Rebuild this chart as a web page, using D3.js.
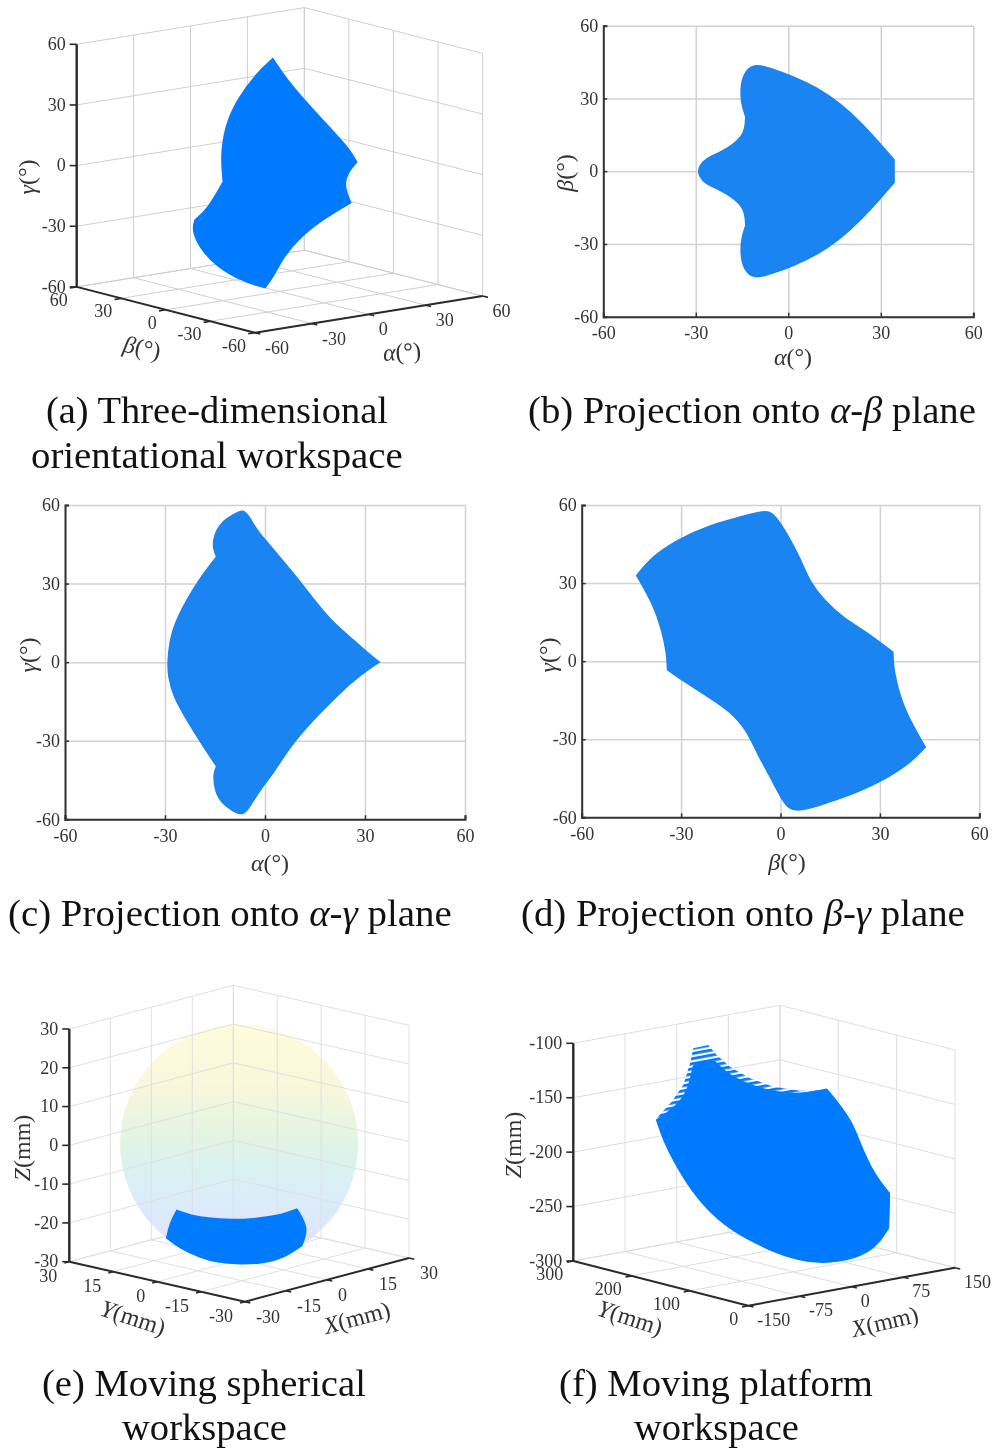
<!DOCTYPE html>
<html>
<head>
<meta charset="utf-8">
<script src="https://cdn.jsdelivr.net/npm/d3@7"></script>
<style>
    html, body { margin: 0; padding: 0; background: #fff; }
    svg { display: block; filter: blur(0.6px); }
    text { font-family: "Liberation Serif", serif; fill: #333; }
    .caption { fill: #111; }
</style>
</head>
<body>
<div id="chart"></div>
<script>
// tick labels of the panels
var angleTicks = [-60, -30, 0, 30, 60];
var sphereTicksXY = [-30, -15, 0, 15, 30];
var sphereTicksZ = [-30, -20, -10, 0, 10, 20, 30];
var platformTicksX = [-150, -75, 0, 75, 150];
var platformTicksY = [0, 100, 200, 300];
var platformTicksZ = [-300, -250, -200, -150, -100];

// (a) silhouette, as [alpha, gamma] on the beta = 0 plane
var outlineA = [[-3.6,55.7],[3.7,44.1],[16,29],[28.3,14.8],[37.1,4.4],[40.6,-2.2],[36.2,-6.2],[34.1,-11.6],
    [35.4,-16.8],[37.5,-21.8],[24.8,-26.8],[10.8,-34.5],[2,-43.1],[-3.3,-52.2],[-7.7,-56.9],[-19.1,-52.3],
    [-33.2,-42.7],[-42,-32.3],[-46.2,-22.6],[-44.6,-17.9],[-37.6,-13.2],[-29.7,-1.2],[-31,11.4],[-28.8,25.9],
    [-22.6,38.1],[-12.1,49.8]];
// positions in the outline where the edge has a sharp corner
var cornersA = [0, 5, 9, 14, 19, 21];

// (b) [alpha, beta]
var outlineB = [[-11,44.6],[-4.9,42],[1.6,39],[9.2,34.6],[16.8,28],[23.2,20.5],[29.7,11.5],[34.3,4.7],[34.3,-4.7],
    [29.7,-11.5],[23.2,-20.5],[16.8,-28],[9.2,-34.6],[1.6,-39],[-4.9,-42],[-11,-44.6],[-14.6,-40.4],[-15.5,-33.5],
    [-15.1,-27.4],[-13.8,-22.5],[-14,-15.7],[-17.8,-10.9],[-22.7,-7.4],[-27,-5],[-28.9,-1.9],[-29.1,0],[-28.9,1.9],
    [-27,5],[-22.7,7.4],[-17.8,10.9],[-14,15.7],[-13.8,22.5],[-15.1,27.4],[-15.5,33.5],[-14.6,40.4]];
var cornersB = [7, 8, 19, 31];

// (c) [alpha, gamma]
var outlineC = [[-6.5,58.6],[-4.5,55],[-2.5,50.5],[0.5,46],[5.5,38.4],[10.5,30.8],[15.5,22.5],[20.5,14.9],[26.5,8.5],
    [31.5,2.8],[34.3,0],[31.5,-2.3],[25.5,-8],[19.5,-15.6],[13.5,-23.3],[7.5,-32.2],[2.5,-42.4],[-1.5,-48.7],[-4.5,-55],
    [-6.5,-58.6],[-9.5,-57],[-13,-53.8],[-15,-49.4],[-15.5,-42.4],[-14.5,-39.8],[-18.5,-32.2],[-23.5,-22],[-27.5,-13.1],
    [-29,-5.5],[-29.2,0],[-28.5,8.5],[-27,14.9],[-23.5,23.8],[-19.5,32],[-14.5,40.3],[-15.5,42.9],[-15.5,48],[-13,53.7],[-9.5,56.2]];
var cornersC = [10, 24, 34];

// (d) [beta, gamma]
var outlineD = [[-3.6,58.5],[-1.1,54.9],[1.9,49.2],[5.9,39.6],[9,30],[13,23.6],[19,16.5],[25,12],[33.9,3.5],[34.1,-4],
    [36.6,-16.1],[40.1,-25.1],[43.7,-33],[39.1,-39.2],[32.1,-44.9],[24,-50],[14,-54.5],[3.9,-58.5],[0.9,-54.5],[-3.1,-44.3],
    [-7.1,-35.3],[-10.2,-26.4],[-15.2,-19.3],[-21.2,-14.2],[-28.3,-8.5],[-34.1,-3.3],[-34.3,3.1],[-35.8,12],[-38.3,21.6],
    [-43.4,32.9],[-39.3,39.6],[-31.3,46.6],[-21.2,52.4],[-11.2,55.6]];
var cornersD = [8, 12, 25, 29];

// (e) moving spherical workspace, as [x, z] on the y = 0 plane
var sphereRadius = 30.7;
var outlineE = [[-22.8,-13],[-18,-15.1],[-11.9,-17],[-2.1,-19.3],[4,-20.3],[10.1,-20.9],[16.2,-21.3],[21.1,-20.9],[22.9,-23.2],[25.1,-27],[22.9,-30.6],
    [16.2,-32.6],[8.8,-32.5],[0.3,-31.2],[-8.2,-29.1],[-14.3,-26.7],[-21.6,-23],[-26.5,-19.4],[-25.3,-15.8]];
var cornersE = [0, 7, 10, 17];

// (f) moving platform workspace, as [x, z] on the y = 150 plane
var outlineF = [[-156,-149.2],[-127,-140.4],[-110.1,-127.1],[-102.8,-106.5],[-97.9,-102.4],[-71.3,-105.6],[-54.4,-118.5],
    [-25.3,-131.5],[13.3,-143.5],[52,-150],[90.8,-149.7],[107.6,-164.5],[127.1,-183.7],[139.1,-205],[158.4,-234.8],[181.6,-255.9],
    [181.6,-269.6],[180.2,-287.8],[163.3,-302.8],[134.3,-310.1],[85.8,-309.7],[37.5,-298.9],[-10.8,-280.3],[-59.3,-257],
    [-97.9,-227.9],[-126.9,-195.5],[-146.4,-168.8]];
var cornersF = [0, 3, 5, 10, 15, 17];
// outer limit of the separate marker rows above the solid part of (f)
var roughEdgeF = [[-156,-147.6],[-134.2,-135],[-117.3,-121.5],[-107.6,-102.8],[-102.8,-89.6],[-81.1,-89],[-68.9,-99.7],
    [-49.6,-112.6],[-20.5,-126.7],[13.3,-138.4],[52,-146.5],[90.8,-149.7]];

// caption lines, parts marked true are italic
var captionLines = [
    [["(a) Three-dimensional", false]],
    [["orientational workspace", false]],
    [["(b) Projection onto ", false], ["α-β", true], [" plane", false]],
    [["(c) Projection onto ", false], ["α-γ", true], [" plane", false]],
    [["(d) Projection onto ", false], ["β-γ", true], [" plane", false]],
    [["(e) Moving spherical", false]],
    [["workspace", false]],
    [["(f) Moving platform", false]],
    [["workspace", false]]
];
// left end, right end and baseline of every caption line
var captionPlaces = [[46,388,423],[31,403,468],[528,976,423],[8,452,926],[521,965,926],[42,366,1396],[122,287,1440],[559,873,1396],[634,799,1440]];

var width = 992, height = 1449;
var blue3d = "#007bff", blue2d = "#1a84f0";

var svg = d3.select("#chart").append("svg")
    .attr("width", width)
    .attr("height", height);
var defs = svg.append("defs");

var sphereFill = defs.append("linearGradient")
    .attr("id", "sphereFill")
    .attr("x1", 0).attr("y1", 0).attr("x2", 0).attr("y2", 1);
[[0, "#fffbdc"], [0.25, "#f9f7dc"], [0.48, "#e2f4e2"], [0.6, "#d9f2f0"], [0.75, "#daecfa"], [1, "#e4e0fd"]].forEach(function(s){
    sphereFill.append("stop").attr("offset", s[0]).attr("stop-color", s[1]);
});

/**
 * Closed path through a screen outline: smooth between the listed corners, sharp on them
 */
function outlinePath(points, corners){
    var line = d3.line().curve(d3.curveBasis);
    var runs = corners.map(function(c, i){
        var next = corners[(i + 1) % corners.length];
        if(next > c) return points.slice(c, next + 1);
        return points.slice(c).concat(points.slice(0, next + 1));
    });
    var d = runs.map(function(run){ return line(run); }).join("");
    return "M" + d.slice(1).replace(/M/g, "L") + "Z";
}

/**
 * Writes an axis title centred on (x, y), the name part in italics
 */
function axisTitle(name, rest, x, y, angle){
    var t = svg.append("text")
        .attr("transform", "translate(" + x + "," + y + ") rotate(" + angle + ")")
        .attr("text-anchor", "middle")
        .attr("dy", "0.32em")
        .style("font-size", "24px");
    t.append("tspan").style("font-style", "italic").text(name);
    t.append("tspan").text(rest);
}

/**
 * A flat projection panel: grid, workspace, then the left and bottom axes
 */
function plane(p){
    var x = d3.scaleLinear().domain([-60, 60]).range([p.left, p.right]);
    var y = d3.scaleLinear().domain([-60, 60]).range([p.bottom, p.top]);
    var g = svg.append("g");

    var gridX = d3.axisBottom(x).tickValues(angleTicks).tickSize(p.top - p.bottom).tickFormat("");
    var gridY = d3.axisLeft(y).tickValues(angleTicks).tickSize(p.left - p.right).tickFormat("");
    var grid = g.append("g");
    grid.append("g").attr("transform", "translate(0," + p.bottom + ")").call(gridX);
    grid.append("g").attr("transform", "translate(" + p.left + ",0)").call(gridY);
    grid.selectAll(".domain").remove();
    grid.selectAll("line").attr("stroke", "#d2d2d2").attr("stroke-width", 1.5);

    var screen = p.outline.map(function(d){ return [x(d[0]), y(d[1])]; });
    g.append("path").attr("d", outlinePath(screen, p.corners))
        .attr("fill", blue2d).attr("stroke", blue2d).attr("stroke-width", 1.5);

    var axisX = g.append("g").attr("transform", "translate(0," + p.bottom + ")")
        .call(d3.axisBottom(x).tickValues(angleTicks).tickSize(-4).tickPadding(10).tickFormat(String));
    var axisY = g.append("g").attr("transform", "translate(" + p.left + ",0)")
        .call(d3.axisLeft(y).tickValues(angleTicks).tickSize(-4).tickPadding(5).tickFormat(String));
    [axisX, axisY].forEach(function(a){
        a.selectAll("text").style("font-size", "18px").style("font-family", null);
        a.selectAll(".domain").attr("stroke", "#333").attr("stroke-width", 2);
        a.selectAll("line").attr("stroke", "#333").attr("stroke-width", 1.5);
    });
}

/**
 * A 3D panel. The view is fixed by where the three floor corners and the
 * top of the vertical axis sit on the page.
 */
function box(p){
    var u = d3.scaleLinear().domain(d3.extent(p.xTicks)).range([0, 1]);
    var v = d3.scaleLinear().domain(d3.extent(p.yTicks)).range([0, 1]);
    var w = d3.scaleLinear().domain(d3.extent(p.zTicks)).range([0, p.zLeft[1] - p.zTop]);
    var xMin = u.domain()[0], xMax = u.domain()[1];
    var yMin = v.domain()[0], yMax = v.domain()[1];
    var zMin = w.domain()[0], zMax = w.domain()[1];

    function project(a, b, c){
        return [
            p.front[0] + u(a) * (p.right[0] - p.front[0]) + v(b) * (p.zLeft[0] - p.front[0]),
            p.front[1] + u(a) * (p.right[1] - p.front[1]) + v(b) * (p.zLeft[1] - p.front[1]) - w(c)
        ];
    }
    function segment(g, from, to, color, size){
        g.append("line")
            .attr("x1", from[0]).attr("y1", from[1])
            .attr("x2", to[0]).attr("y2", to[1])
            .attr("stroke", color).attr("stroke-width", size);
    }

    var g = svg.append("g");

    // the sphere lies behind the grid lines
    if(p.sphere){
        var centre = project(0, 0, 0);
        g.append("circle")
            .attr("cx", centre[0]).attr("cy", centre[1])
            .attr("r", w(p.sphere) - w(0))
            .attr("fill", "url(#sphereFill)");
    }

    var grid = g.append("g");
    p.xTicks.forEach(function(t){
        segment(grid, project(t, yMax, zMin), project(t, yMax, zMax), p.gridColor, 1);
        segment(grid, project(t, yMin, zMin), project(t, yMax, zMin), p.gridColor, 1);
    });
    p.yTicks.forEach(function(t){
        segment(grid, project(xMax, t, zMin), project(xMax, t, zMax), p.gridColor, 1);
        segment(grid, project(xMin, t, zMin), project(xMax, t, zMin), p.gridColor, 1);
    });
    p.zTicks.forEach(function(t){
        segment(grid, project(xMin, yMax, t), project(xMax, yMax, t), p.gridColor, 1);
        segment(grid, project(xMax, yMax, t), project(xMax, yMin, t), p.gridColor, 1);
    });

    function screen(d){ return project(d[0], p.plane, d[1]); }

    // rows of markers along the top of (f), lying in the X direction
    if(p.rough){
        var slope = Math.atan2(p.right[1] - p.front[1], p.right[0] - p.front[0]) * 180 / Math.PI;
        var rows = defs.append("pattern")
            .attr("id", "markerRows")
            .attr("patternUnits", "userSpaceOnUse")
            .attr("width", 20).attr("height", 5)
            .attr("patternTransform", "rotate(" + slope + ")");
        rows.append("rect").attr("width", 20).attr("height", 2.8).attr("fill", blue3d);
        g.append("path")
            .attr("d", d3.line().curve(d3.curveLinearClosed)(p.rough.map(screen)))
            .attr("fill", "url(#markerRows)");
    }

    g.append("path")
        .attr("d", outlinePath(p.outline.map(screen), p.corners))
        .attr("fill", blue3d).attr("stroke", blue3d).attr("stroke-width", 1.5);

    // axes
    var dark = "#2a2a2a";
    segment(g, project(xMin, yMax, zMin), project(xMin, yMax, zMax), dark, 2.4);
    segment(g, project(xMin, yMax, zMin), project(xMin, yMin, zMin), dark, 2);
    segment(g, project(xMin, yMin, zMin), project(xMax, yMin, zMin), dark, 2);

    var xOut = (xMax - xMin) * 0.03, yOut = (yMax - yMin) * 0.03;
    p.zTicks.forEach(function(t){
        var a = project(xMin, yMax, t);
        segment(g, a, [a[0] - 7, a[1]], dark, 1.6);
        g.append("text").attr("x", a[0] - 11).attr("y", a[1]).attr("dy", "0.32em")
            .attr("text-anchor", "end").style("font-size", "18px").text(t);
    });
    p.yTicks.forEach(function(t){
        var a = project(xMin, t, zMin);
        segment(g, a, project(xMin - xOut, t, zMin), dark, 1.6);
        g.append("text").attr("x", a[0] + p.yLabel[0]).attr("y", a[1] + p.yLabel[1])
            .attr("text-anchor", "end").style("font-size", "18px").text(t);
    });
    p.xTicks.forEach(function(t){
        var a = project(t, yMin, zMin);
        segment(g, a, project(t, yMin - yOut, zMin), dark, 1.6);
        g.append("text").attr("x", a[0] + p.xLabel[0]).attr("y", a[1] + p.xLabel[1])
            .attr("text-anchor", "start").style("font-size", "18px").text(t);
    });
}

box({
    xTicks: angleTicks, yTicks: angleTicks, zTicks: angleTicks,
    front: [255, 332.7], right: [482.6, 296], zLeft: [76.7, 286.9], zTop: 44.3,
    plane: 0, outline: outlineA, corners: cornersA, gridColor: "#cfcfcf",
    yLabel: [-9, 19], xLabel: [10, 21]
});
plane({left: 603.3, right: 973.3, top: 25.7, bottom: 316.7, outline: outlineB, corners: cornersB});
plane({left: 65, right: 465, top: 505, bottom: 819.3, outline: outlineC, corners: cornersC});
plane({left: 581.7, right: 979.3, top: 505, bottom: 817.3, outline: outlineD, corners: cornersD});
box({
    xTicks: sphereTicksXY, yTicks: sphereTicksXY, zTicks: sphereTicksZ,
    front: [245, 1301.7], right: [409, 1258], zLeft: [69.3, 1261.7], zTop: 1029,
    plane: 0, outline: outlineE, corners: cornersE, sphere: sphereRadius, gridColor: "#e0e0e0",
    yLabel: [-12, 20], xLabel: [11, 21]
});
box({
    xTicks: platformTicksX, yTicks: platformTicksY, zTicks: platformTicksZ,
    front: [748.3, 1305.7], right: [955, 1267.7], zLeft: [573.3, 1261], zTop: 1043.3,
    plane: 150, outline: outlineF, corners: cornersF, rough: roughEdgeF, gridColor: "#dedede",
    yLabel: [-10, 19], xLabel: [9, 20]
});

axisTitle("γ", "(°)", 27, 177, -90);
axisTitle("β", "(°)", 142, 348, 12);
axisTitle("α", "(°)", 402, 352, -4);
axisTitle("α", "(°)", 793, 357, 0);
axisTitle("β", "(°)", 565, 173, -90);
axisTitle("α", "(°)", 270, 863, 0);
axisTitle("γ", "(°)", 28, 655, -90);
axisTitle("β", "(°)", 787, 862, 0);
axisTitle("γ", "(°)", 548, 655, -90);
axisTitle("Z", "(mm)", 22, 1148, -90);
axisTitle("Y", "(mm)", 133, 1318, 18);
axisTitle("X", "(mm)", 357, 1318, -15);
axisTitle("Z", "(mm)", 513, 1145, -90);
axisTitle("Y", "(mm)", 630, 1318, 18);
axisTitle("X", "(mm)", 885, 1322, -13);

// captions are narrowed to the width they have in the picture
captionLines.forEach(function(parts, i){
    var place = captionPlaces[i];
    var t = svg.append("text").attr("class", "caption").style("font-size", "37px");
    parts.forEach(function(part){
        t.append("tspan").style("font-style", part[1] ? "italic" : "normal").text(part[0]);
    });
    var k = (place[1] - place[0]) / t.node().getComputedTextLength();
    t.attr("transform", "translate(" + place[0] + "," + place[2] + ") scale(" + k + ",1)");
});
</script>
</body>
</html>
